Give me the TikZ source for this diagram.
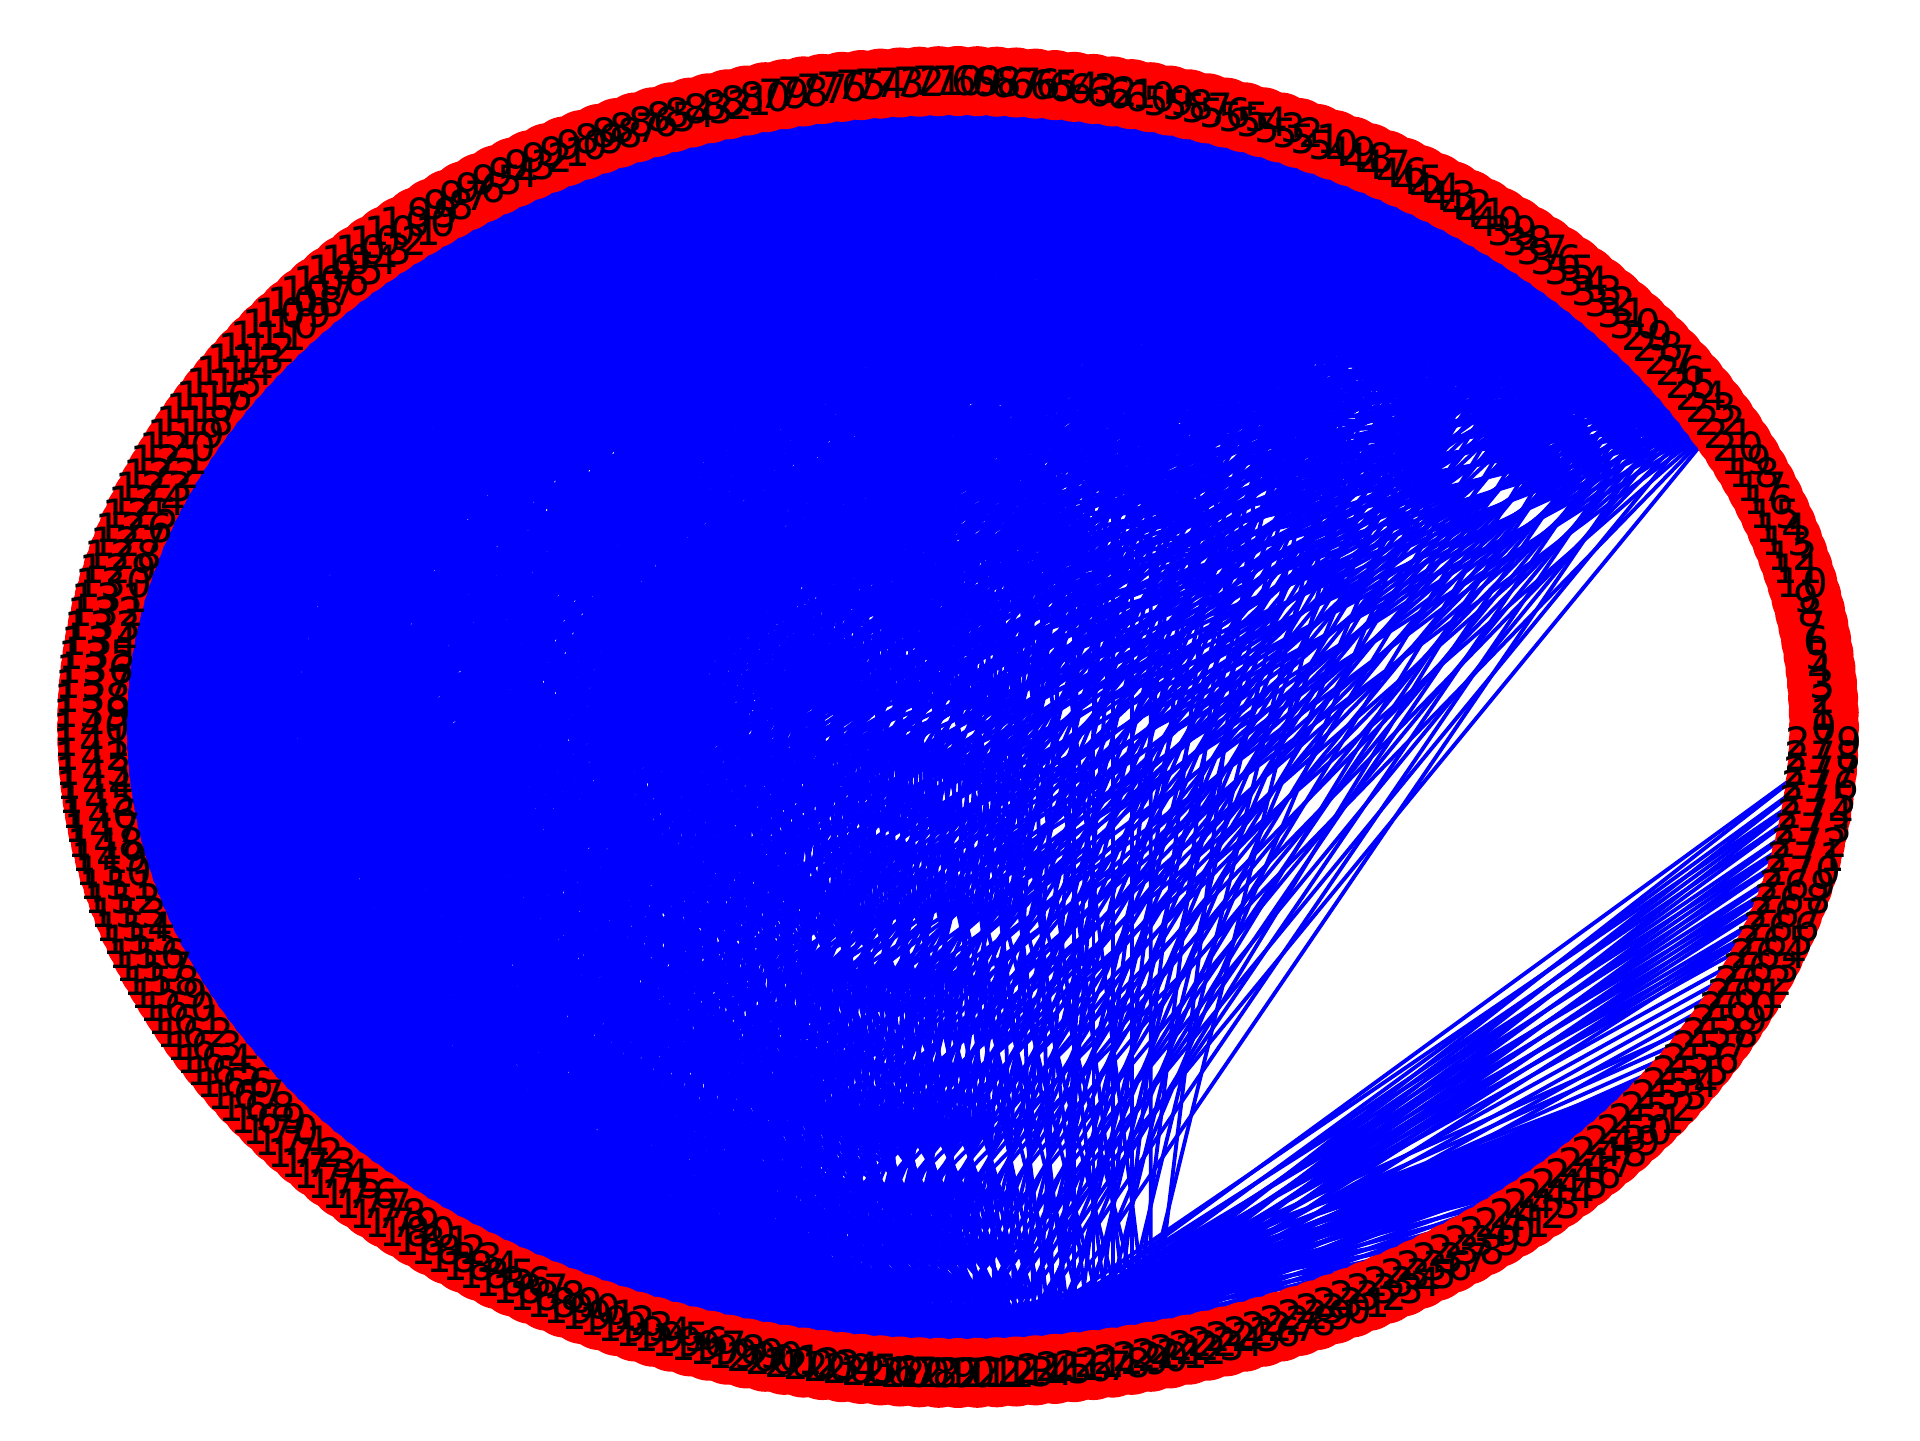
\documentclass[tikz,border=0pt]{standalone}
\usepackage{fontspec}
\setmainfont{DejaVu Sans}
\usetikzlibrary{backgrounds}
\definecolor{vred}{RGB}{255,0,0}
\definecolor{eblue}{RGB}{0,0,255}

\begin{document}
\begin{tikzpicture}[
 vtx/.style={circle,fill=vred,inner sep=0pt,minimum size=7mm},
 lbl/.style={font=\fontsize{11.5}{11.5}\selectfont,text=black,inner sep=0pt},
 edge/.style={draw=eblue,line width=1.1pt}]
\useasboundingbox (0,0) rectangle (19.2,14.4);
% vertices on the ellipse
\begin{scope}[shift={(9.58,7.13)}]
\foreach \k [evaluate=\k as \ang using \k*9/7] in {0,...,279}
 \node[vtx] (v\k) at (\ang:8.66 and 6.46) {};
\end{scope}
\foreach \k in {0,...,279}
 \node[lbl] (t\k) at (v\k) {\k};
\begin{scope}[on background layer]
\fill[white] (0,0) rectangle (19.2,14.4);
% main block
\foreach \i in {30,...,214}{
 \pgfmathtruncatemacro\jo{\i+1}
 \foreach \j in {\jo,...,215}{
  \pgfmathtruncatemacro\m{(\i<61 && \j>174) ? 11 : 6}
  \pgfmathtruncatemacro\r{mod(\i+\j,\m)}
  \ifnum\r=0 \draw[edge] (v\i.center) -- (v\j.center);\fi}}
% top right fan
\foreach \i in {22,...,29}{
 \foreach \j in {35,...,213}{
  \pgfmathtruncatemacro\r{mod(\i+\j,7)}
  \ifnum\r=0 \draw[edge] (v\i.center) -- (v\j.center);\fi}}
% top to bottom hubs
\foreach \i in {45,...,80}{
 \foreach \j in {216,...,220}{
  \pgfmathtruncatemacro\r{mod(\i+\j,8)}
  \ifnum\r=0 \draw[edge] (v\i.center) -- (v\j.center);\fi}}
% right side to the bottom
\foreach \i in {267,...,278}{
 \foreach \j in {210,...,216}{
  \pgfmathtruncatemacro\r{mod(\i+\j,3)}
  \ifnum\r=0 \draw[edge] (v\i.center) -- (v\j.center);\fi}}
\foreach \i in {257,...,266}{
 \foreach \j in {208,...,216}{
  \pgfmathtruncatemacro\r{mod(\i+\j,9)}
  \ifnum\r=0 \draw[edge] (v\i.center) -- (v\j.center);\fi}}
\foreach \i in {249,...,256}{
 \foreach \j in {205,...,214}{
  \pgfmathtruncatemacro\r{mod(\i+\j,2)}
  \ifnum\r=0 \draw[edge] (v\i.center) -- (v\j.center);\fi}}
% lower right to the bottom
\foreach \i in {226,...,248}{
 \foreach \j in {200,...,214}{
  \pgfmathtruncatemacro\r{mod(\i+\j,9)}
  \ifnum\r=0 \draw[edge] (v\i.center) -- (v\j.center);\fi}}
\end{scope}
\end{tikzpicture}
\end{document}
